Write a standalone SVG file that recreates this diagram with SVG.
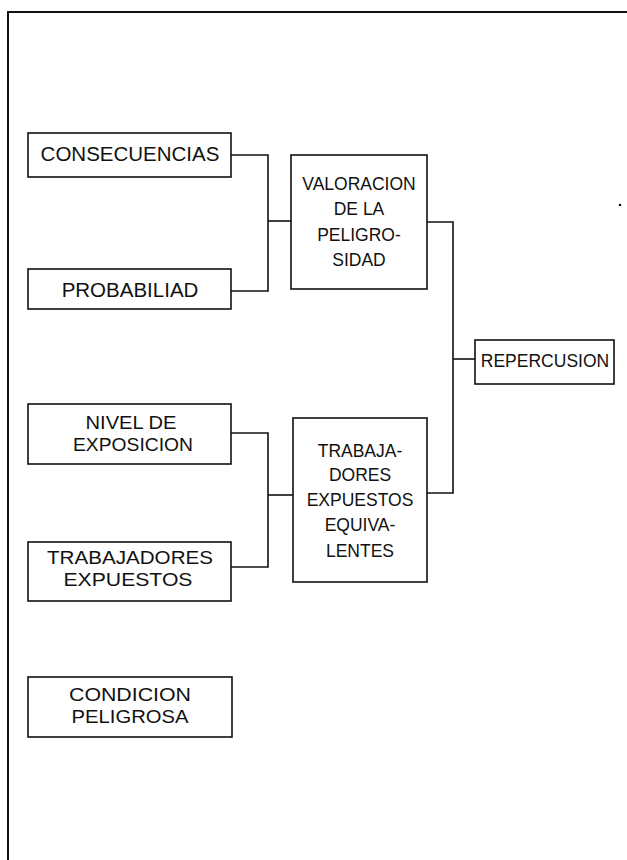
<svg xmlns="http://www.w3.org/2000/svg" width="627" height="860" viewBox="0 0 627 860">
<style>
.box{fill:#fff;stroke:#111;stroke-width:1.6}
.ln{fill:none;stroke:#111;stroke-width:1.6}
.fr{fill:none;stroke:#111;stroke-width:2}
.t{font-family:"Liberation Sans",Arial,sans-serif;fill:#111;text-anchor:middle}
.l{font-size:20.5px}
.m{font-size:19px}
.r{font-size:17.5px}
</style>
<rect width="627" height="860" fill="#fff"/>
<g id="frame">
<path class="fr" d="M8,860 V12 H627"/>
<circle cx="620" cy="205" r="1.3" fill="#111"/>
</g>
<g id="connectors">
<path class="ln" d="M231,155 H268 V291 H231"/>
<path class="ln" d="M268,221 H292"/>
<path class="ln" d="M427,222 H453 V493 H427"/>
<path class="ln" d="M453,359 H475"/>
<path class="ln" d="M231,433 H268 V567 H231"/>
<path class="ln" d="M268,495 H293"/>
</g>
<g id="consecuencias">
<rect class="box" x="28" y="133" width="203" height="44"/>
<text class="t l" x="130" y="161">CONSECUENCIAS</text>
</g>
<g id="probabiliad">
<rect class="box" x="28" y="269" width="203" height="40"/>
<text class="t l" x="130" y="297">PROBABILIAD</text>
</g>
<g id="valoracion">
<rect class="box" x="291" y="155" width="136" height="134"/>
<text class="t r" x="359" y="190">VALORACION</text>
<text class="t r" x="359" y="215">DE LA</text>
<text class="t r" x="359" y="241">PELIGRO-</text>
<text class="t r" x="359" y="266">SIDAD</text>
</g>
<g id="repercusion">
<rect class="box" x="475" y="340" width="139" height="44"/>
<text class="t r" x="545" y="367">REPERCUSION</text>
</g>
<g id="nivel">
<rect class="box" x="28" y="404" width="203" height="60"/>
<text class="t m" x="131" y="429" textLength="91" lengthAdjust="spacingAndGlyphs">NIVEL DE</text>
<text class="t m" x="133" y="451" textLength="120" lengthAdjust="spacingAndGlyphs">EXPOSICION</text>
</g>
<g id="trabajadores-expuestos">
<rect class="box" x="28" y="542" width="203" height="59"/>
<text class="t m" x="130" y="564" textLength="166" lengthAdjust="spacingAndGlyphs">TRABAJADORES</text>
<text class="t m" x="128" y="586" textLength="129" lengthAdjust="spacingAndGlyphs">EXPUESTOS</text>
</g>
<g id="condicion">
<rect class="box" x="28" y="677" width="204" height="60"/>
<text class="t m" x="130" y="701" textLength="122" lengthAdjust="spacingAndGlyphs">CONDICION</text>
<text class="t m" x="130" y="723" textLength="117" lengthAdjust="spacingAndGlyphs">PELIGROSA</text>
</g>
<g id="trabajadores-equivalentes">
<rect class="box" x="293" y="418" width="134" height="164"/>
<text class="t r" x="360" y="457">TRABAJA-</text>
<text class="t r" x="360" y="481">DORES</text>
<text class="t r" x="360" y="506">EXPUESTOS</text>
<text class="t r" x="360" y="531">EQUIVA-</text>
<text class="t r" x="360" y="557">LENTES</text>
</g>
</svg>
